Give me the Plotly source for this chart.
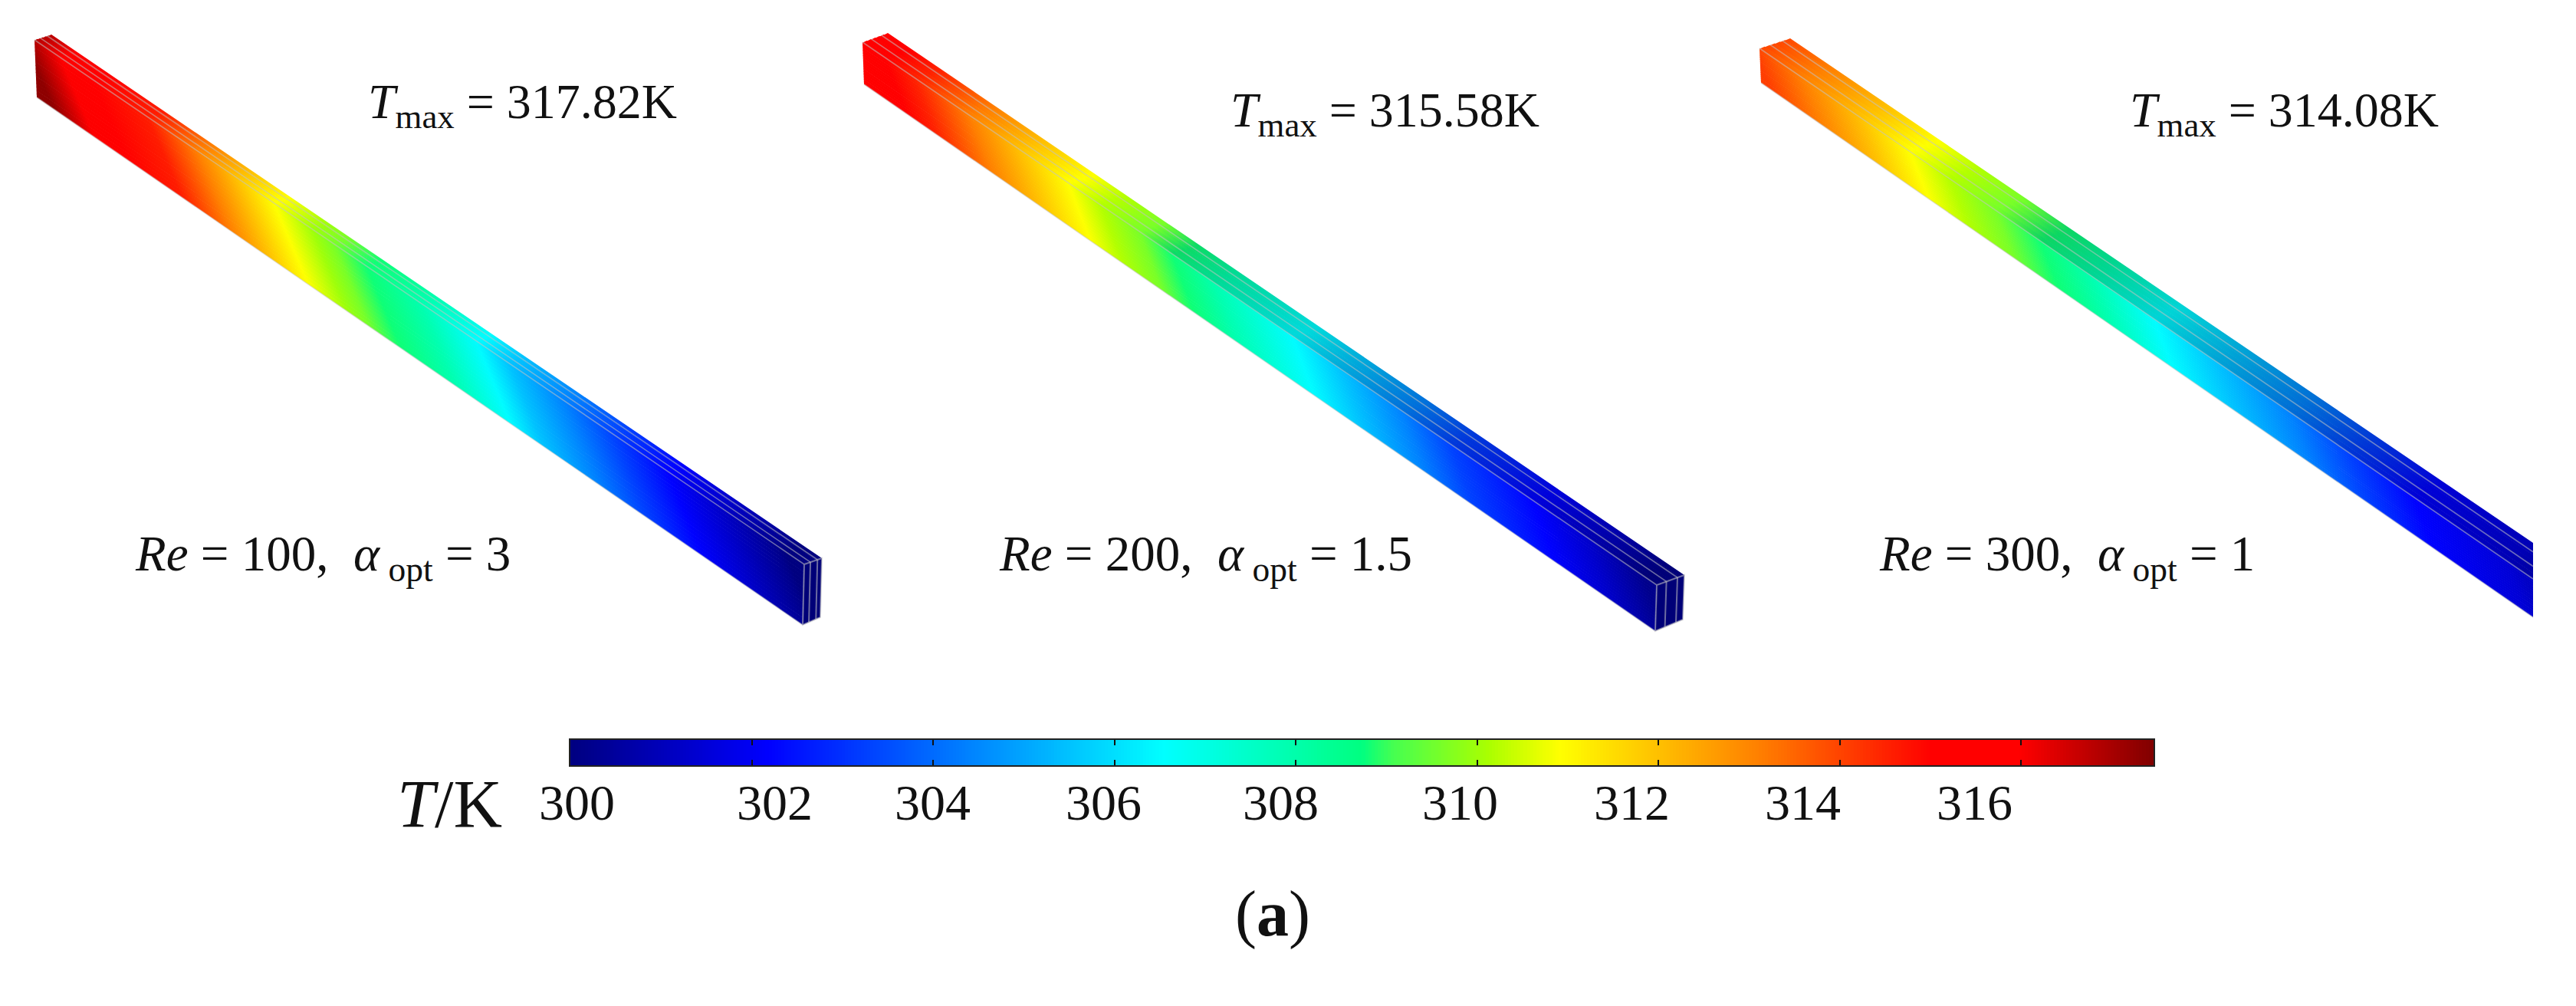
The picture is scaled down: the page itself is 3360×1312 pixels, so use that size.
import numpy as np
import plotly.graph_objects as go
from plotly.colors import sample_colorscale

W, H = 3360, 1312
FONT = "Liberation Serif"

# ---------- data ----------
T_min, T_end = 300.0, 317.46
tick_values = [302, 304, 306, 308, 310, 312, 314, 316]
tick_labels = ["300", "302", "304", "306", "308", "310", "312", "314", "316"]

# axial position along each visible channel (0..1) and temperature there (K)
bar1_pos = [0, .053, .096, .167, .232, .282, .332, .382, .41, .453, .524, .596, .639, .71, .774, .846, .91, .989, 1]
bar1_T = [317.3, 316.0, 315.3, 314.6, 313.1, 312.0, 310.9, 310.0, 309.6, 308.8, 307.9, 306.5, 305.5, 304.4, 303.3, 302.2, 301.3, 300.2, 300.0]
bar2_pos = [0, .04, .078, .148, .21, .272, .313, .362, .403, .458, .555, .617, .693, .755, .859, .928, 1]
bar2_T = [315.5, 315.3, 314.5, 313.1, 312.0, 310.9, 310.2, 309.6, 308.8, 307.9, 306.5, 305.5, 304.4, 303.3, 302.2, 301.3, 300.2]
bar3_pos = [0, .066, .14, .205, .257, .315, .374, .44, .521, .602, .697, .771, .858, .976, 1]
bar3_T = [314.1, 313.1, 312.0, 310.9, 310.2, 309.6, 308.8, 307.9, 306.5, 305.5, 304.4, 303.3, 302.2, 301.5, 301.2]

# colour map, as on the colour bar
colorscale = [
    [0.0, "rgb(0,0,128)"], [0.125, "rgb(0,0,255)"], [0.25, "rgb(0,128,255)"],
    [0.375, "rgb(0,255,255)"], [0.5, "rgb(0,255,128)"], [0.52, "rgb(70,255,80)"],
    [0.58, "rgb(170,255,0)"], [0.625, "rgb(255,255,0)"], [0.75, "rgb(255,128,0)"],
    [0.86, "rgb(255,0,0)"], [0.915, "rgb(255,0,0)"], [1.0, "rgb(128,0,0)"],
]

# ---------- drawing geometry (image pixels) ----------
bars = [
    dict(pos=bar1_pos, T=bar1_T, tl=(45, 52), bl=(48, 127), tr=(1049, 736), br=(1047, 815),
         back_l=(67, 45), back_r=(1072, 728), low_r=(1070, 805), slant=45, top_slant=22, shade=1.0, end=True),
    dict(pos=bar2_pos, T=bar2_T, tl=(1125, 55), bl=(1127, 110), tr=(2161, 763), br=(2159, 823),
         back_l=(1158, 43), back_r=(2197, 750), low_r=(2195, 808), slant=29, top_slant=36, shade=0.86, end=True),
    dict(pos=bar3_pos, T=bar3_T, tl=(2295, 63), bl=(2297, 108), tr=(3304, 755), br=(3304, 805),
         back_l=(2335, 50), back_r=(3304, 708), low_r=None, slant=25, top_slant=40, shade=0.84, end=False),
]
LAYERS = (0.0, 0.35, 0.75)
EDGE = "rgba(195,195,195,0.55)"


def color_of(t, shade=1.0):
    c = sample_colorscale(colorscale, [(t - T_min) / (T_end - T_min)], colortype="tuple")[0]
    f = shade if t < 309 else 1.0
    return "rgb(%d,%d,%d)" % tuple(round(255 * v * f) for v in c)


def lerp(a, b, u):
    return (a[0] + (b[0] - a[0]) * u, a[1] + (b[1] - a[1]) * u)


def strip(fig, a0, a1, b0, b1, x_start, x_stop, stops):
    fig.add_trace(go.Scatter(
        x=[a0[0], b0[0], b1[0], a1[0], a0[0]], y=[a0[1], b0[1], b1[1], a1[1], a0[1]],
        mode="lines", line=dict(width=0), fill="toself", hoverinfo="skip", showlegend=False,
        fillgradient=dict(type="horizontal", start=x_start, stop=x_stop, colorscale=stops),
    ))


fig = go.Figure()
for b in bars:
    x_a, x_b = b["bl"][0], b["br"][0]
    side = [[p, color_of(t)] for p, t in zip(b["pos"], b["T"])]
    top = [[p, color_of(t, b["shade"])] for p, t in zip(b["pos"], b["T"])]
    # top face, back to front, split into thin strips so that isotherms can lean
    n = 6
    for j in range(n):
        u0, u1 = 1 - j / n, 1 - (j + 1) / n
        u_m = (u0 + u1) / 2
        sh = -b["slant"] / 2 + b["top_slant"] * u_m
        l0, l1 = lerp(b["tl"], b["back_l"], u0), lerp(b["tl"], b["back_l"], u1)
        r0, r1 = lerp(b["tr"], b["back_r"], u0), lerp(b["tr"], b["back_r"], u1)
        strip(fig, l0, (l1[0], l1[1] + 0.7), r0, (r1[0], r1[1] + 0.7), x_a + sh, x_b + sh, top)
    # side face
    n = 16
    for j in range(n):
        d0, d1 = j / n, (j + 1) / n
        sh = b["slant"] * ((d0 + d1) / 2 - 0.5)
        l0, l1 = lerp(b["tl"], b["bl"], d0), lerp(b["tl"], b["bl"], d1)
        r0, r1 = lerp(b["tr"], b["br"], d0), lerp(b["tr"], b["br"], d1)
        extra = 0.7 if j < n - 1 else 0
        strip(fig, l0, (l1[0], l1[1] + extra), r0, (r1[0], r1[1] + extra), x_a + sh, x_b + sh, side)
    # end face
    if b["end"]:
        ex = [b["tr"][0], b["back_r"][0], b["low_r"][0], b["br"][0], b["tr"][0]]
        ey = [b["tr"][1], b["back_r"][1], b["low_r"][1], b["br"][1], b["tr"][1]]
        fig.add_trace(go.Scatter(x=ex, y=ey, mode="lines", fill="toself", fillcolor="rgb(0,0,120)",
                                 line=dict(color=EDGE, width=2), hoverinfo="skip", showlegend=False))
        for u in LAYERS[1:]:
            p, q = lerp(b["tr"], b["back_r"], u), lerp(b["br"], b["low_r"], u)
            fig.add_trace(go.Scatter(x=[p[0], q[0]], y=[p[1], q[1]], mode="lines",
                                     line=dict(color=EDGE, width=2), hoverinfo="skip", showlegend=False))
    # layer lines and outline
    for u in LAYERS:
        p, q = lerp(b["tl"], b["back_l"], u), lerp(b["tr"], b["back_r"], u)
        fig.add_trace(go.Scatter(x=[p[0], q[0]], y=[p[1], q[1]], mode="lines",
                                 line=dict(color=EDGE, width=1.6), hoverinfo="skip", showlegend=False))
    fig.add_trace(go.Scatter(x=[b["bl"][0], b["br"][0]], y=[b["bl"][1], b["br"][1]], mode="lines",
                             line=dict(color="rgba(195,195,195,0.45)", width=1.6), hoverinfo="skip", showlegend=False))

# colour bar drawn as its own small axis pair
ramp = np.linspace(T_min, T_end, 500)
fig.add_trace(go.Heatmap(x=ramp, y=[0, 1], z=[ramp, ramp], zmin=T_min, zmax=T_end, colorscale=colorscale,
                         showscale=False, xaxis="x2", yaxis="y2", hoverinfo="skip"))

BAR_L, BAR_R, BAR_T, BAR_B = 744, 2809, 965, 998
fig.update_layout(
    width=W, height=H, margin=dict(l=0, r=0, t=0, b=0, pad=0),
    paper_bgcolor="white", plot_bgcolor="white", showlegend=False,
    xaxis=dict(range=[0, W], visible=False, domain=[0, 1]),
    yaxis=dict(range=[H, 0], visible=False, domain=[0, 1]),
    xaxis2=dict(domain=[BAR_L / W, BAR_R / W], anchor="y2", range=[T_min, T_end], tickmode="array",
                tickvals=tick_values, ticks="inside", ticklen=7, tickwidth=1.5, tickcolor="#111",
                showticklabels=False, showgrid=False, zeroline=False, showline=True, linecolor="#222",
                linewidth=2, mirror="ticks"),
    yaxis2=dict(domain=[1 - BAR_B / H, 1 - BAR_T / H], anchor="x2", range=[0, 1], showticklabels=False,
                showgrid=False, zeroline=False, ticks="", showline=True, linecolor="#222", linewidth=2, mirror=True),
)


def note(x, y, text, size, anchor="left"):
    fig.add_annotation(x=x, y=y, xref="x", yref="y", text=text, showarrow=False, xanchor=anchor, yanchor="middle",
                       font=dict(family=FONT, size=size, color="#111"), borderpad=0, borderwidth=0)


NB = "\u00a0"
note(480, 137, "<i>T</i><sub>max</sub> = 317.82K", 64)
note(1605, 148, "<i>T</i><sub>max</sub> = 315.58K", 64)
note(2778, 148, "<i>T</i><sub>max</sub> = 314.08K", 64)
note(176, 727, f"<i>Re</i> = 100,{NB}{NB}<i>α</i><sub>{NB}opt</sub> = 3", 65)
note(1303, 727, f"<i>Re</i> = 200,{NB}{NB}<i>α</i><sub>{NB}opt</sub> = 1.5", 65)
note(2451, 727, f"<i>Re</i> = 300,{NB}{NB}<i>α</i><sub>{NB}opt</sub> = 1", 65)
note(518, 1048, "<i>T</i>/K", 88)
label_x = [752, 1010, 1216, 1439, 1670, 1904, 2128, 2351, 2575]
for lx, lab in zip(label_x, tick_labels):
    note(lx, 1046, lab, 66, "center")
note(1660, 1192, "(<b>a</b>)", 84, "center")

fig.write_html("out.html", config=dict(displayModeBar=False),
               post_script="document.body.style.margin='0';")
